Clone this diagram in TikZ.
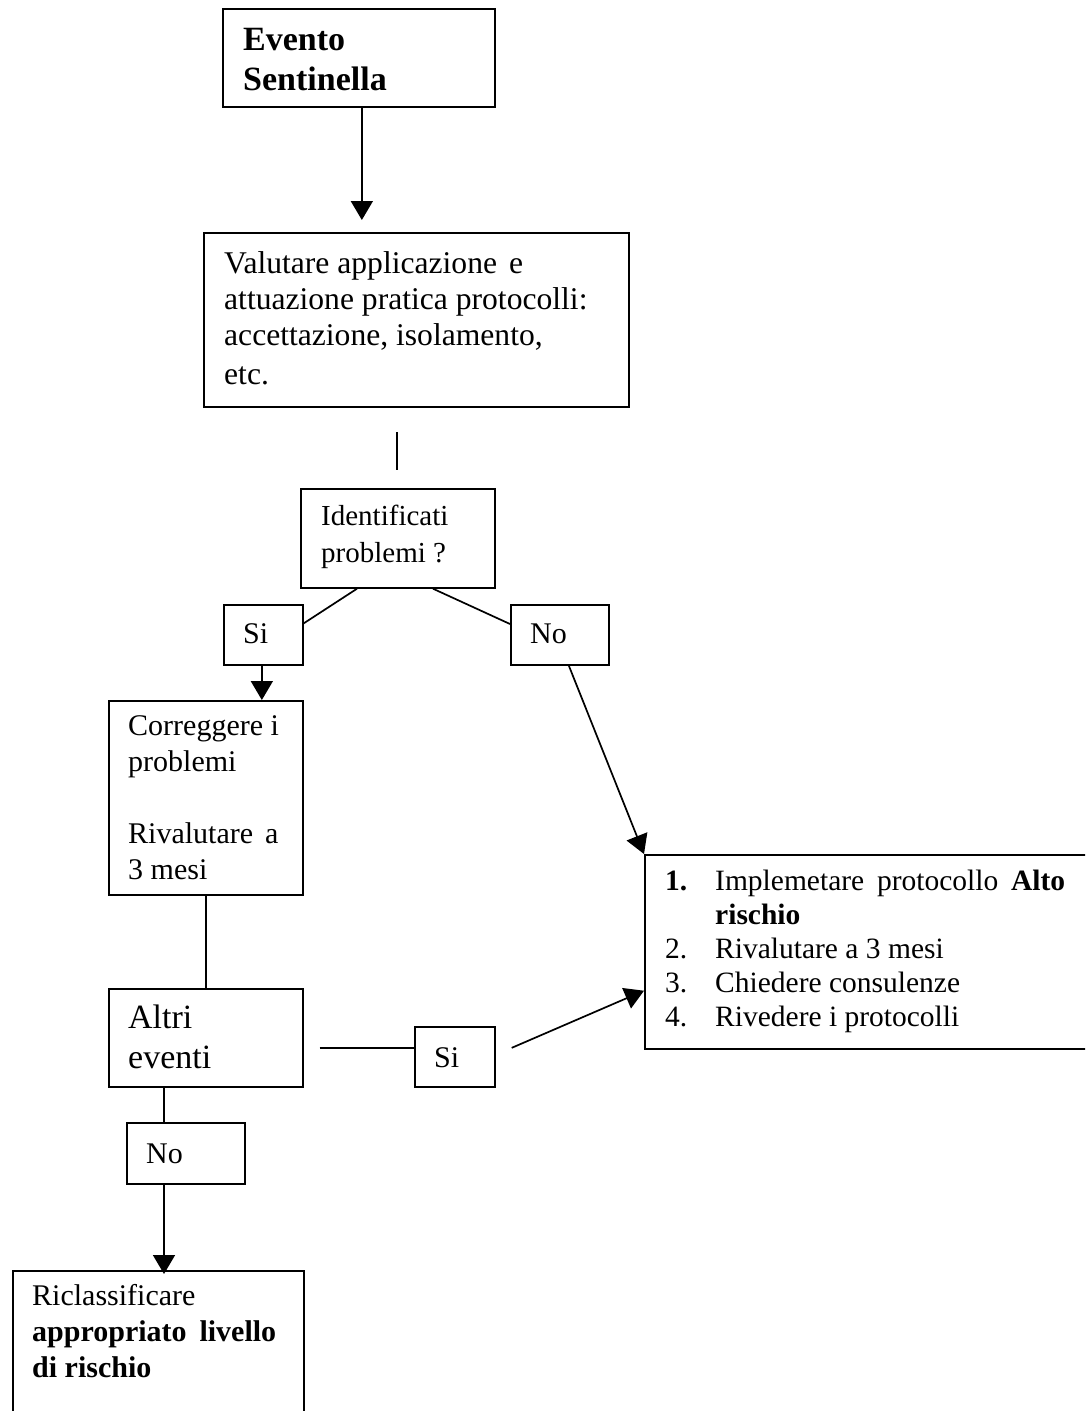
\documentclass[tikz,border=0pt]{standalone}
\usepackage{fontspec}
\setmainfont{Liberation Serif}
\usetikzlibrary{arrows.meta,calc}
\begin{document}
\begin{tikzpicture}[x=1pt,y=-1pt,
  box/.style={draw, line width=1.7pt, rectangle, inner sep=0pt, anchor=north west},
  txt/.style={anchor=north west, inner sep=0pt, align=left},
  conn/.style={line width=1.7pt},
  arr/.style={conn, -{Triangle[length=19pt,width=22pt]}}]
\useasboundingbox (0,0) rectangle (1085,1411);
\clip (0,0) rectangle (1085,1411);
% boxes
\node[box, minimum width=272pt, minimum height=98pt] (b1) at (222,8) {};
\node[box, minimum width=425pt, minimum height=174pt] (b2) at (203,232) {};
\node[box, minimum width=194pt, minimum height=99pt] (b3) at (300,488) {};
\node[box, minimum width=79pt, minimum height=60pt] (si) at (223,604) {};
\node[box, minimum width=98pt, minimum height=60pt] (no) at (510,604) {};
\node[box, minimum width=194pt, minimum height=194pt] (corr) at (108,700) {};
\node[box, minimum width=194pt, minimum height=98pt] (altri) at (108,988) {};
\node[box, minimum width=80pt, minimum height=60pt] (si2) at (414,1026) {};
\node[box, minimum width=118pt, minimum height=61pt] (no2) at (126,1122) {};
\node[box, minimum width=460pt, minimum height=194pt] (alto) at (644,854) {};
\node[box, minimum width=291pt, minimum height=200pt] (ricl) at (12,1270) {};
% texts
\node[txt, font=\fontsize{34}{40}\selectfont\bfseries] (t1) at (243,22) {\strut Evento\\Sentinella};
\node[txt, font=\fontsize{31.6}{36}\selectfont] (t2) at (224,247.8) {\strut Valutare applicazione\hspace{12pt}e\\attuazione pratica protocolli:\\accettazione, isolamento,\\[3pt]etc.};
\node[txt, font=\fontsize{29}{37}\selectfont] (t3) at (321,499.1) {\strut Identificati\\problemi ?};
\node[txt, font=\fontsize{30}{36}\selectfont] (tsi) at (243,617.8) {\strut Si};
\node[txt, font=\fontsize{30}{36}\selectfont] (tno) at (530,617.8) {\strut No};
\node[txt, font=\fontsize{30}{36}\selectfont] (tcorr) at (128,709.8) {\strut Correggere i\\problemi\\[36pt]Rivalutare\hspace{12pt}a\\3 mesi};
\node[txt, font=\fontsize{34}{40}\selectfont] (taltri) at (128,1000) {\strut Altri\\eventi};
\node[txt, font=\fontsize{30}{36}\selectfont] (tsi2) at (434,1041.8) {\strut Si};
\node[txt, font=\fontsize{30}{36}\selectfont] (tno2) at (146,1137.8) {\strut No};
\node[txt, font=\fontsize{29.5}{34.2}\selectfont] (talto) at (665,866) {\strut\makebox[50pt][l]{\textbf{1.}}\makebox[350pt][s]{Implemetare protocollo \textbf{Alto}}\\
\hspace*{50pt}\textbf{rischio}\\
\makebox[50pt][l]{2.}Rivalutare a 3 mesi\\
\makebox[50pt][l]{3.}Chiedere consulenze\\
\makebox[50pt][l]{4.}Rivedere i protocolli};
\node[txt, font=\fontsize{30}{36}\selectfont] (tricl) at (32,1279.8) {\strut Riclassificare\\\makebox[244pt][s]{\bfseries appropriato livello}\\\textbf{di rischio}};
% connectors
\coordinate (a1s) at ($(b1.south)+(3,0)$);
\coordinate (a1b) at (a1s |- b2.north);
\coordinate (a1e) at ($(a1b)+(0,-12)$);
\draw[arr] (a1s) -- (a1e);
\coordinate (l1s) at ($(b3.north)+(-1,-56)$);
\coordinate (l1e) at ($(b3.north)+(-1,-18)$);
\draw[conn] (l1s) -- (l1e);
\draw[conn] ($(b3.south west)+(57,0)$) -- ($(si.north east)+(-1,20)$);
\draw[conn] ($(b3.south west)+(133,0)$) -- ($(no.north west)+(0,20)$);
\coordinate (sis) at ($(si.south)+(-1.5,0)$);
\draw[arr] (sis) -- (sis |- corr.north);
\draw[conn] (corr.south) -- (altri.north);
\coordinate (c1) at ($(altri.east)+(16,10)$);
\draw[conn] (c1) -- (c1 -| si2.west);
\coordinate (c2) at ($(si2.east)+(16,-9)$);
\coordinate (c3) at ($(alto.south west)+(0,-59)$);
\draw[arr] (c2) -- (c3);
\coordinate (c4) at ($(no.south)+(9,0)$);
\draw[arr] (c4) -- (alto.north west);
\coordinate (x164) at ($(no2.north west)+(38,0)$);
\draw[conn] (altri.south -| x164) -- (x164);
\coordinate (r1) at (x164 |- ricl.north);
\draw[arr] (no2.south -| x164) -- ($(r1)+(0,4)$);
\end{tikzpicture}
\end{document}
